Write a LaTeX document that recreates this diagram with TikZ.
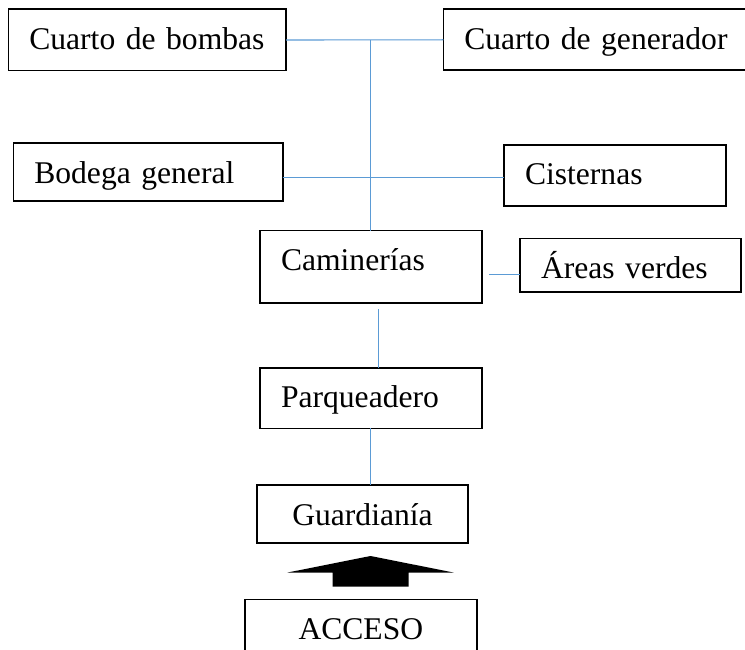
\documentclass[tikz,border=0pt]{standalone}
\usepackage{fontspec}
\setmainfont{Liberation Serif}
\definecolor{linea}{HTML}{5B9BD5}
\tikzset{
  caja/.style={draw, line width=1.6pt, anchor=north west, outer sep=0pt,
    inner xsep=21pt, inner ysep=0pt, text height=40pt, align=left,
    font=\fontsize{31.6}{38}\selectfont},
  enlace/.style={draw=linea, line width=1.4pt}
}
\begin{document}
\begin{tikzpicture}[x=1pt,y=-1pt]
\clip (0,0) rectangle (745,650);
\fill[white] (0,0) rectangle (745,650);

% zona de servicios
\node[caja, text width=235.7pt, text depth=21.4pt] (bombas) at (8.3,9.3) {Cuarto de bombas};
\node[caja, text width=274.7pt, text depth=21pt] (generador) at (443.3,9.3) {Cuarto de generador};
\node[caja, text width=227.4pt, text depth=17.7pt] (bodega) at (13.3,143.3) {Bodega general};
\node[caja, text width=179.7pt, text depth=21pt] (cisternas) at (504,145) {Cisternas};

% recorrido
\node[caja, text width=179.7pt, text depth=32.3pt] (caminerias) at (260,230.7) {Caminerías};
\node[caja, text width=178.7pt, text depth=13.4pt] (areas) at (520,238.3) {Áreas verdes};
\node[caja, text width=179.7pt, text depth=20.6pt] (parqueadero) at (260,367.7) {Parqueadero};
\node[caja, text width=169pt, text depth=17.7pt, align=center] (guardiania) at (257,485) {Guardianía};
\node[caja, text width=189.7pt, text depth=30pt, align=center] (acceso) at (245,599.3) {ACCESO};

% enlaces
\draw[enlace, line width=1.1pt] (bombas.east) -- (generador.west);
\coordinate (nudo) at (caminerias.north |- bombas.east);
\draw[enlace, line width=1.1pt] (nudo) -- (caminerias.north);
\coordinate (eje) at (371,177.7);
\draw[enlace] (bodega.east |- eje) -- (cisternas.west |- eje);
\coordinate (ramal) at (489,274.3);
\draw[enlace] (ramal) -- (areas.west |- ramal);
\coordinate (bajada) at (378.7,309);
\draw[enlace] (bajada) -- (bajada |- parqueadero.north);
\draw[enlace, line width=1.1pt] (parqueadero.south) -- (parqueadero.south |- guardiania.north);

% flecha de entrada
\fill (370.5,556) -- (453.5,572.5) -- (408.5,572.5) -- (408.5,586.7)
  -- (332.7,586.7) -- (332.7,572.5) -- (287.7,572.5) -- cycle;
\end{tikzpicture}
\end{document}
